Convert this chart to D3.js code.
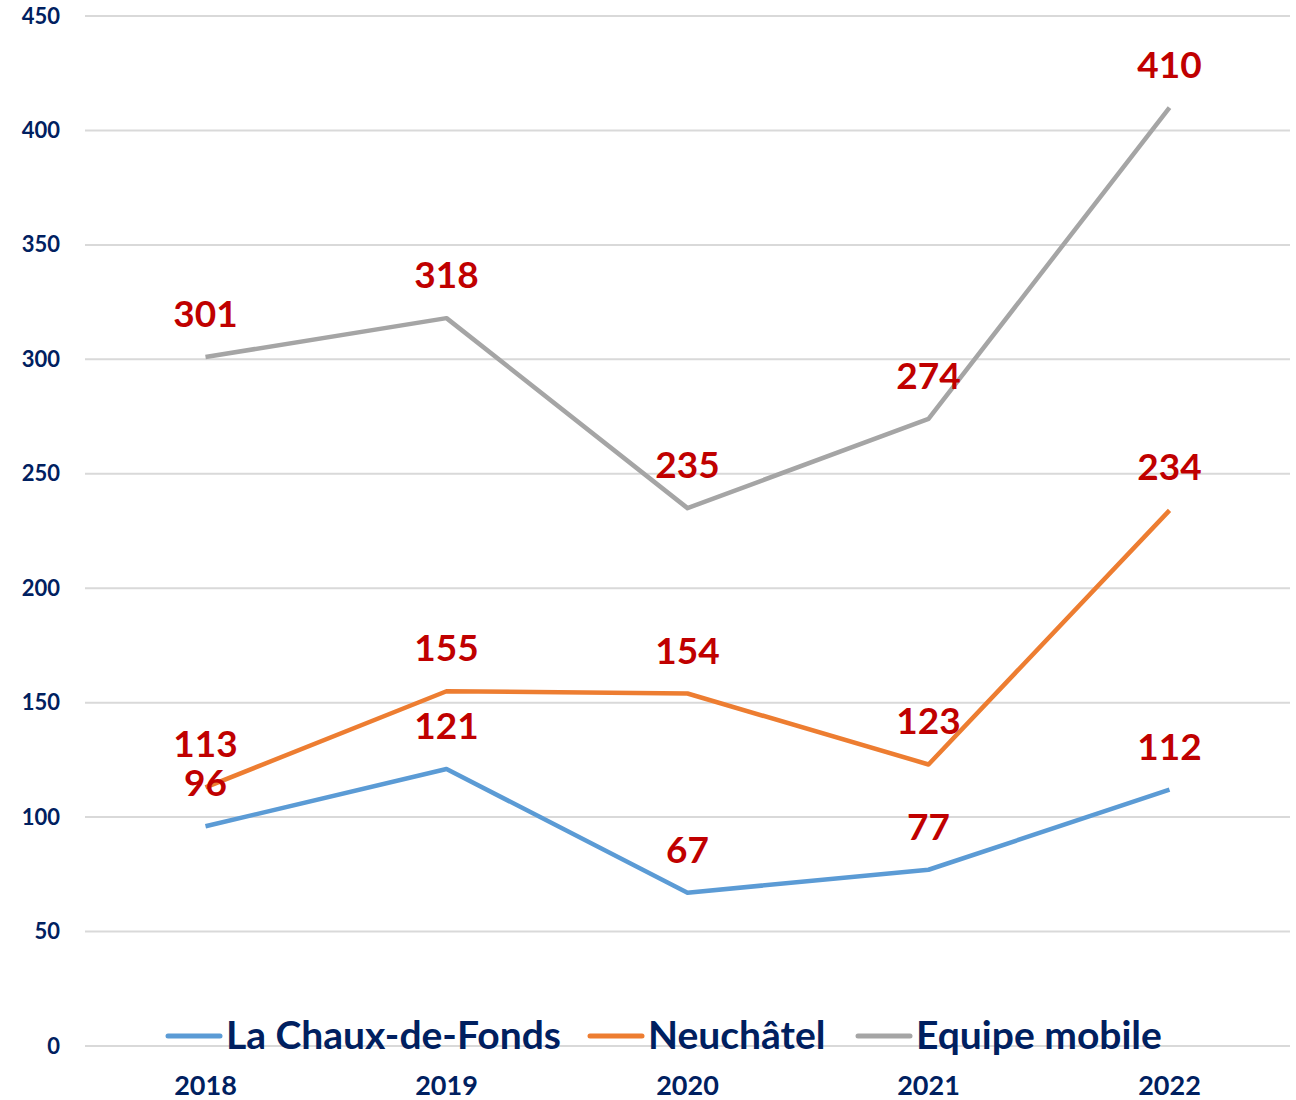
<!DOCTYPE html>
<html>
<head>
<meta charset="utf-8">
<script src="https://cdn.jsdelivr.net/npm/d3@7"></script>
<style>
  body { margin: 0; background: #fff; }
  svg text { font-family: Lato, "Open Sans", sans-serif; font-weight: bold; }
</style>
</head>
<body>
<div id="chart"></div>
<script>
const years = ["2018", "2019", "2020", "2021", "2022"];
const chauxDeFonds = [96, 121, 67, 77, 112];
const neuchatel = [113, 155, 154, 123, 234];
const equipeMobile = [301, 318, 235, 274, 410];
const yTicks = [0, 50, 100, 150, 200, 250, 300, 350, 400, 450];

const series = [
    { name: "La Chaux-de-Fonds", values: chauxDeFonds, color: "#5B9BD5" },
    { name: "Neuchâtel", values: neuchatel, color: "#ED7D31" },
    { name: "Equipe mobile", values: equipeMobile, color: "#A5A5A5" }
];

const W = 1296, H = 1100;
const margin = { top: 16, right: 6, bottom: 54, left: 85 };
const width = W - margin.left - margin.right,
      height = H - margin.top - margin.bottom;

const svg = d3.select("#chart").append("svg")
    .attr("width", W)
    .attr("height", H)
    .append("g")
    .attr("transform", `translate(${margin.left},${margin.top})`);

const x = d3.scaleBand()
    .domain(years)
    .range([0, width]);

const y = d3.scaleLinear()
    .domain([0, 450])
    .range([height, 0]);

// gridlines
svg.append("g")
    .selectAll("line")
    .data(yTicks)
    .enter()
    .append("line")
    .attr("x1", 0)
    .attr("x2", width)
    .attr("y1", d => y(d))
    .attr("y2", d => y(d))
    .attr("stroke", "#D9D9D9")
    .attr("stroke-width", 2);

// y axis
const yAxis = svg.append("g")
    .call(d3.axisLeft(y).tickValues(yTicks).tickSize(0).tickPadding(25));
yAxis.select(".domain").remove();
yAxis.selectAll("text")
    .style("font-size", "22px")
    .attr("fill", "#002060");

// x axis
const xAxis = svg.append("g")
    .attr("transform", `translate(0, ${height})`)
    .call(d3.axisBottom(x).tickSize(0).tickPadding(30));
xAxis.select(".domain").remove();
xAxis.selectAll("text")
    .style("font-size", "27px")
    .attr("fill", "#002060");

const line = d3.line()
    .x((d, i) => x(years[i]) + x.bandwidth() / 2)
    .y(d => y(d));

series.forEach(s => {
    svg.append("path")
        .datum(s.values)
        .attr("fill", "none")
        .attr("stroke", s.color)
        .attr("stroke-width", 4.5)
        .attr("stroke-linejoin", "round")
        .attr("d", line);
});

// data labels
series.forEach(s => {
    svg.selectAll(null)
        .data(s.values)
        .enter()
        .append("text")
        .attr("x", (d, i) => x(years[i]) + x.bandwidth() / 2)
        .attr("y", d => y(d) - 30)
        .attr("text-anchor", "middle")
        .style("font-size", "37px")
        .attr("fill", "#C00000")
        .text(d => d);
});

// legend
const legendX = [83, 505, 773];
const legend = svg.append("g")
    .attr("transform", `translate(0, ${height - 10})`);
series.forEach((s, i) => {
    const g = legend.append("g")
        .attr("transform", `translate(${legendX[i]}, 0)`);
    g.append("rect")
        .attr("x", -2)
        .attr("y", -12)
        .attr("width", 54)
        .attr("height", 20)
        .attr("fill", "#fff");
    g.append("line")
        .attr("x1", 0)
        .attr("x2", 52)
        .attr("y1", 0)
        .attr("y2", 0)
        .attr("stroke", s.color)
        .attr("stroke-width", 5)
        .attr("stroke-linecap", "round");
    g.append("text")
        .attr("x", 58)
        .attr("y", 13)
        .style("font-size", "39px")
        .attr("fill", "#002060")
        .text(s.name);
});
</script>
</body>
</html>
